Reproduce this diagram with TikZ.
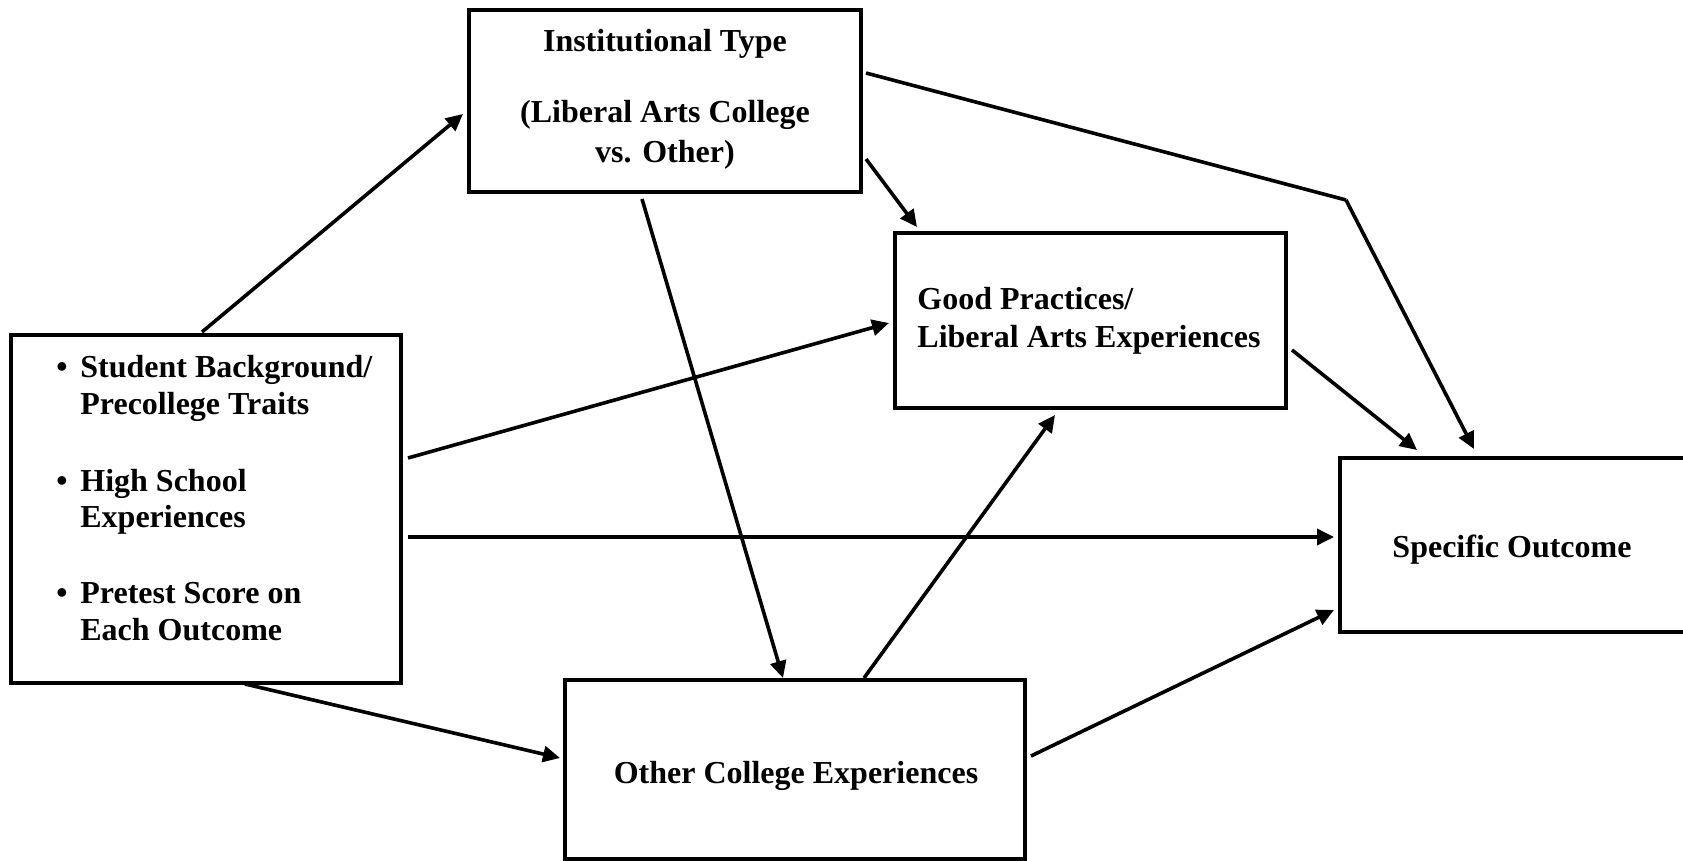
\documentclass[tikz,border=0pt]{standalone}
\usepackage{fontspec}
\setmainfont{Liberation Serif}
\usetikzlibrary{arrows.meta,calc}
\begin{document}
\begin{tikzpicture}[x=0.5pt,y=-0.5pt,
  box/.style={draw=black,line width=2pt,rectangle,inner sep=0pt,fill=none},
  txt/.style={inner sep=0pt,font=\bfseries\fontsize{16}{18}\selectfont},
  arr/.style={line width=1.8pt,-{Triangle[length=8.5pt,width=8pt]}},
  seg/.style={line width=1.8pt}]
\useasboundingbox (0,0) rectangle (1683,861);
\clip (0,0) rectangle (1683,861);
\fill[white] (0,0) rectangle (1683,861);

% boxes
\node[box,minimum width=196pt,minimum height=91pt] (inst) at (665,101) {};
\node[box,minimum width=195.5pt,minimum height=87.5pt] (gp) at (1090.5,320.5) {};
\node[box,minimum width=195pt,minimum height=174pt] (stu) at (206,509) {};
\node[box,minimum width=230pt,minimum height=89.5pt] (oth) at (795,769.5) {};
\node[box,minimum width=180pt,minimum height=87pt] (spec) at (1520,545) {};

% texts
\node[txt,anchor=base] (it1) at (665,52) {Institutional Type};
\node[txt,anchor=base] (it2) at (665,123) {(Liberal Arts College};
\node[txt,anchor=base] (it3) at (665,163) {vs. Other)};

\node[txt,anchor=base west] (gt1) at (917,310) {Good Practices/};
\node[txt,anchor=base west] (gt2) at (917,348) {Liberal Arts Experiences};

\node[txt,anchor=base west] (b1) at (56,378) {•};
\node[txt,anchor=base west] (st1) at (80,378) {Student Background/};
\node[txt,anchor=base west] (st2) at (80,415) {Precollege Traits};
\node[txt,anchor=base west] (b2) at (56,492) {•};
\node[txt,anchor=base west] (st3) at (80,492) {High School};
\node[txt,anchor=base west] (st4) at (80,527) {Experiences};
\node[txt,anchor=base west] (b3) at (56,603) {•};
\node[txt,anchor=base west] (st5) at (80,603) {Pretest Score on};
\node[txt,anchor=base west] (st6) at (80,640) {Each Outcome};

\node[txt,anchor=base] (ot) at (796,783) {Other College Experiences};
\node[txt,anchor=base] (sp) at (1512,557) {Specific Outcome};

% connectors
\draw[arr] ($(stu.north west)+(193,-1)$) -- ($(inst.north west)+(-4,106)$);
\draw[arr] ($(stu.north east)+(5,125)$) -- ($(gp.north west)+(-4,92)$);
\draw[arr] ($(stu.north east)+(5,204)$) -- ($(spec.north west)+(-4,81)$);
\draw[arr] ($(stu.south west)+(236,-1)$) -- ($(oth.north west)+(-3,80)$);
\draw[arr] ($(inst.south west)+(175,5)$) -- ($(oth.north west)+(220,0)$);
\draw[arr] ($(inst.north east)+(3,151)$) -- ($(gp.north west)+(24,-4)$);
\coordinate (bend) at (1346,200);
\draw[seg] ($(inst.north east)+(3,65)$) -- (bend);
\draw[arr] (bend) -- ($(spec.north west)+(136,-7)$);
\draw[arr] ($(gp.north east)+(4,119)$) -- ($(spec.north west)+(79,-6)$);
\draw[arr] ($(oth.north west)+(301,0)$) -- ($(gp.south west)+(162,5)$);
\draw[arr] ($(oth.north east)+(4,78)$) -- ($(spec.north west)+(-4,154)$);
\end{tikzpicture}
\end{document}
